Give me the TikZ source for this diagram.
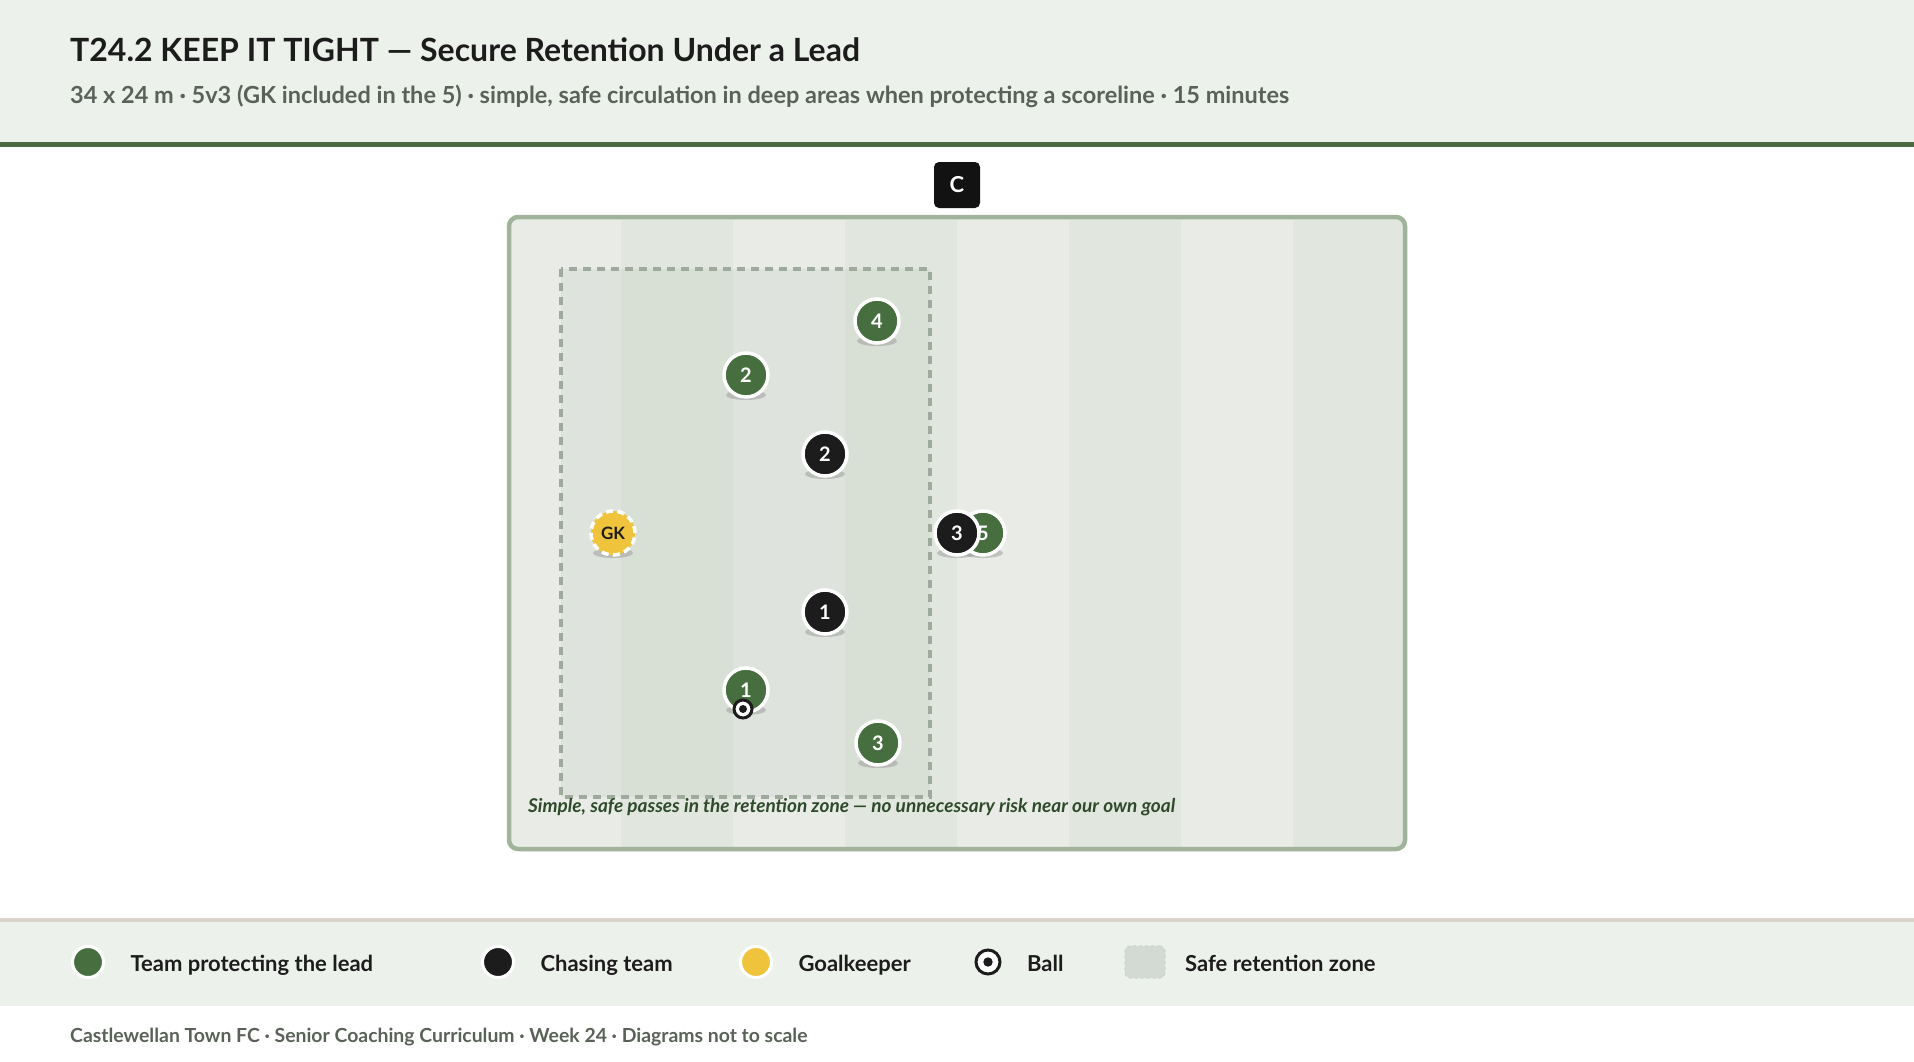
\documentclass[tikz,border=0pt]{standalone}
\usepackage{fontspec}
\setmainfont{Lato}
\usetikzlibrary{positioning}
\definecolor{leadgreen}{HTML}{476E3F}
\definecolor{chaseblack}{HTML}{1C1C1C}
\definecolor{gkyellow}{HTML}{F0C33C}
\definecolor{bandbg}{HTML}{EDF1EB}
\definecolor{bandline}{HTML}{4B6A42}
\definecolor{legline}{HTML}{D8D4CB}
\definecolor{stripelight}{HTML}{E9ECE6}
\definecolor{stripedark}{HTML}{E1E7DE}
\definecolor{pitchline}{HTML}{A1B49B}
\definecolor{zoneline}{HTML}{9EAA9C}
\definecolor{swatch}{HTML}{D3DAD3}
\definecolor{subgray}{HTML}{596257}
\definecolor{notegreen}{HTML}{2E4A2B}
\pgfdeclarelayer{pitchlayer}
\pgfdeclarelayer{shadelayer}
\pgfsetlayers{pitchlayer,shadelayer,main}
\tikzset{
    x=1pt, y=-1pt, % one unit is one pixel of the sheet, y runs down
    player/.style={circle, draw=white, line width=3.5pt, minimum size=44pt, inner sep=0pt,
        text=white, font=\bfseries\fontsize{20}{20}\selectfont}, % every disc on the pitch
    lead/.style={player, fill=leadgreen}, % team protecting the lead
    chaser/.style={player, fill=chaseblack}, % chasing team
    keeper/.style={player, fill=gkyellow, dash pattern=on 7pt off 4.5pt, text=chaseblack,
        font=\bfseries\fontsize{17}{17}\selectfont}, % goalkeeper
    ball/.style={circle, draw=chaseblack, fill=white, line width=3pt, minimum size=18pt, inner sep=0pt,
        path picture={\fill[chaseblack] (path picture bounding box.center) circle (4pt);}},
    pshadow/.style={fill=black!40, opacity=0.5}, % shadow under each disc
    legtext/.style={anchor=west, text height=19.5pt, text depth=0pt, text=chaseblack,
        font=\bfseries\fontsize{22}{22}\selectfont}, % legend labels
    node distance=22pt,
}

\begin{document}
\begin{tikzpicture}
\useasboundingbox (0,0) rectangle (1914,1062);

% header
\fill[bandbg] (0,0) rectangle (1914,142);
\fill[bandline] (0,142) rectangle (1914,147);
\node[anchor=base west, inner sep=0pt, font=\bfseries\fontsize{32}{32}\selectfont, text=chaseblack] (title) at (70,61.5)
    {T24.2 KEEP IT TIGHT — Secure Retention Under a Lead};
\node[anchor=base west, inner sep=0pt, font=\bfseries\fontsize{23.5}{23.5}\selectfont, text=subgray] (subtitle) at (70,104)
    {34 x 24 m · 5v3 (GK included in the 5) · simple, safe circulation in deep areas when protecting a scoreline · 15 minutes};

% pitch
\begin{pgfonlayer}{pitchlayer}
\begin{scope}
\clip[rounded corners=9pt] (509,217) rectangle (1405,849);
\foreach \i in {0,2,4,6} \fill[stripelight] ({509+112*\i},217) rectangle ++(112,632);
\foreach \i in {1,3,5,7} \fill[stripedark] ({509+112*\i},217) rectangle ++(112,632);
\end{scope}
\draw[pitchline, line width=4.5pt, rounded corners=9pt] (509,217) rectangle (1405,849);
\fill[zoneline, opacity=0.12] (561,269) rectangle (930,797);
\draw[zoneline, line width=4pt, dash pattern=on 8pt off 6pt] (561,269) rectangle (930,797);
\end{pgfonlayer}

\node[rectangle, rounded corners=5pt, fill=black!93, minimum size=46pt, text=white,
    font=\bfseries\fontsize{22}{22}\selectfont] (coach) at (957,185) {C};

\node[lead] (g4) at (877,321) {4};
\node[lead] (g2) at (746,375) {2};
\node[chaser] (c2) at (825,454) {2};
\node[keeper] (gk) at (613,533) {GK};
\node[lead] (g5) at (983,533) {5};
\node[chaser] (c3) at (957,533) {3};
\node[chaser] (c1) at (825,612) {1};
\node[lead] (g1) at (746,690) {1};
\node[ball] (ball) at (743,709) {};
\node[lead] (g3) at (878,743) {3};

\begin{pgfonlayer}{shadelayer}
\foreach \p in {g4,g2,c2,gk,g5,c3,c1,g1,g3}
    \fill[pshadow] (\p.center) ++(0,20) ellipse [x radius=20pt, y radius=5pt];
\end{pgfonlayer}

\node[anchor=base west, inner sep=0pt, font=\bfseries\itshape\fontsize{19}{19}\selectfont, text=notegreen] (note) at (528,812)
    {Simple, safe passes in the retention zone — no unnecessary risk near our own goal};

% legend
\fill[legline] (0,918) rectangle (1914,922);
\fill[bandbg] (0,922) rectangle (1914,1006);
\node[lead, minimum size=31pt, line width=3pt] (lg1) at (88,962) {};
\node[legtext, right=of lg1] (lt1) {Team protecting the lead};
\node[chaser, minimum size=31pt, line width=3pt] (lg2) at (498,962) {};
\node[legtext, right=of lg2] (lt2) {Chasing team};
\node[lead, fill=gkyellow, minimum size=31pt, line width=3pt] (lg3) at (756,962) {};
\node[legtext, right=of lg3] (lt3) {Goalkeeper};
\node[ball, minimum size=24pt, path picture={\fill[chaseblack] (path picture bounding box.center) circle (4.7pt);}] (lg4) at (988,962) {};
\node[legtext, right=of lg4] (lt4) {Ball};
\node[rectangle, rounded corners=5pt, fill=swatch, draw=zoneline!50, line width=1.2pt, dashed, minimum width=40pt,
    minimum height=32pt] (lg5) at (1145,962) {};
\node[legtext, right=16pt of lg5] (lt5) {Safe retention zone};

% footer
\node[anchor=base west, inner sep=0pt, font=\bfseries\fontsize{19.4}{19.4}\selectfont, text=subgray] (footer) at (70,1042)
    {Castlewellan Town FC · Senior Coaching Curriculum · Week 24 · Diagrams not to scale};
\end{tikzpicture}
\end{document}
